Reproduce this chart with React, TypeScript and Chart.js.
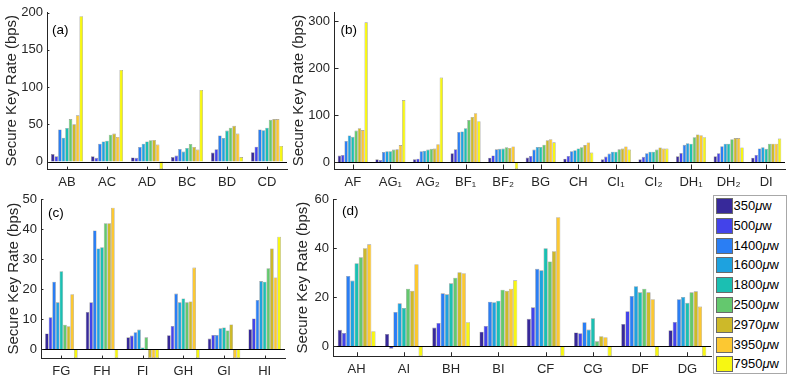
import React, { useEffect, useRef } from 'react';
import { Chart, registerables } from 'chart.js';

Chart.register(...registerables);

// ---------- DATA ----------
const seriesPower = [350, 500, 1400, 1600, 1800, 2500, 2970, 3950, 7950];
const seriesColors = ['#37299a', '#4343ea', '#2a7ef4', '#1ea2df', '#1bbfb2', '#64c86e', '#cdb929', '#fcc832', '#f7f712'];

const catsA = ['AB', 'AC', 'AD', 'BC', 'BD', 'CD'];
// rows = categories, columns = series (350 ... 7950 µw)
const valuesA = [
  [10, 7, 43, 32, 45, 57, 50, 62, 195],
  [7, 5, 24, 27, 28, 36, 37.5, 33, 123],
  [5.4, 5, 19.6, 24, 27, 28.6, 29, 22.8, -10],
  [6, 8, 17, 13.4, 18.3, 23.7, 19.6, 16, 96],
  [12, 16.5, 35, 31.7, 41.5, 45.5, 48, 37.5, 6],
  [12.5, 20, 43, 42, 45.5, 56, 57, 57, 21],
];
const yTicksA = [0, 50, 100, 150, 200];

const catsB = ['AF', 'AG₁', 'AG₂', 'BF₁', 'BF₂', 'BG', 'CH', 'CI₁', 'CI₂', 'DH₁', 'DH₂', 'DI'];
const valuesB = [
  [13.6, 15, 45, 56.5, 53.7, 67, 72, 68, 298],
  [5.7, 4, 21.5, 23, 23, 26.5, 27, 36, 132],
  [6, 7, 23, 24, 26.5, 28, 28.6, 38, 180],
  [18.6, 27, 64, 65, 72, 89.5, 96, 104, 87],
  [9, 14, 27, 28, 28.6, 31.5, 30, 33, -15],
  [9.3, 13, 26.5, 32, 32, 37, 46.5, 48.7, 42],
  [7, 13, 23, 25, 29, 31.5, 36, 41.5, 20],
  [5.7, 11.5, 18, 22, 22, 27, 28.6, 33, 26.5],
  [5.7, 11, 18.6, 22, 22, 26.5, 31, 28.6, 28.6],
  [12, 19, 36.5, 40, 39, 53, 58.7, 57, 53],
  [12, 18.6, 33.6, 39, 39, 48.7, 51, 51, 31],
  [9, 15, 29, 31.5, 28, 39, 39, 39, 50],
];
const yTicksB = [0, 100, 200, 300];

const catsC = ['FG', 'FH', 'FI', 'GH', 'GI', 'HI'];
const valuesC = [
  [5.2, 10.6, 22.5, 15.6, 26, 8.1, 7.6, 18.3, -3],
  [12.4, 15.6, 39.6, 33.6, 34, 42, 42, 47.2, -3],
  [3.9, 4.5, 5.6, 6.5, 0.5, 3.9, -3, -3, -3],
  [4.6, 7.7, 18.5, 15.6, 16.9, 15.6, 15.9, 27.2, -3],
  [3.5, 4.7, 4.7, 6.9, 7.2, 6.2, 8.2, -3, -3],
  [6.6, 10.2, 16.4, 22.7, 22.5, 27, 33.6, 23.9, 37.5],
];
const yTicksC = [0, 10, 20, 30, 40, 50];

const catsD = ['AH', 'AI', 'BH', 'BI', 'CF', 'CG', 'DF', 'DG'];
const valuesD = [
  [6.7, 5.4, 28.7, 26.8, 33.9, 36.3, 40, 41.6, 6.1],
  [5, -1, 14, 17.5, 15.6, 23.5, 22.6, 33.5, -4],
  [7.6, 9.5, 21.6, 21.2, 25.7, 28, 30.2, 29.8, 9.8],
  [5.9, 8.3, 18.2, 18, 18.6, 23.1, 22.6, 23.5, 26.9],
  [11.2, 15.9, 31.6, 31, 40, 34.6, 38.8, 52.7, -4],
  [5.6, 5.3, 9.8, 6.8, 11.4, 2, 4.1, 3.7, -4],
  [9.1, 14.3, 20.5, 24.5, 22, 23.5, 22, 19.2, -4],
  [6.5, 9.9, 19.2, 20.1, 17.7, 22, 22.4, 16.2, -4],
];
const yTicksD = [0, 20, 40, 60];

// ---------- LAYOUT ----------
const W = 789;
const H = 379;
const FONT = "'Liberation Sans', Arial, Helvetica, sans-serif";
const AX = '#262626';
const TICK_SIZE = 13;
const TITLE_SIZE = 15;

type Spec = {
  id: string;
  cats: string[];
  rows: number[][];
  yMin: number;
  yMax: number;
  yTicks: number[];
  L: number; R: number; T: number; B: number;
  titleOff: number;
  letter: string;
  ldx: number; ldy: number;
};

const specs: Spec[] = [
  { id: 'a', cats: catsA, rows: valuesA, yMin: -10, yMax: 200, yTicks: yTicksA, L: 47, R: 287, T: 12.5, B: 169, titleOff: 35, letter: '(a)', ldx: 5, ldy: 17.5 },
  { id: 'b', cats: catsB, rows: valuesB, yMin: -15, yMax: 320, yTicks: yTicksB, L: 334, R: 785, T: 12, B: 169, titleOff: 35, letter: '(b)', ldx: 6.5, ldy: 18 },
  { id: 'c', cats: catsC, rows: valuesC, yMin: -3, yMax: 50, yTicks: yTicksC, L: 41, R: 285, T: 199.3, B: 358, titleOff: 27, letter: '(c)', ldx: 7, ldy: 14 },
  { id: 'd', cats: catsD, rows: valuesD, yMin: -4, yMax: 60, yTicks: yTicksD, L: 333, R: 711, T: 199.3, B: 356, titleOff: 30, letter: '(d)', ldx: 9, ldy: 12 },
];

const decoPlugin = {
  id: 'panelDeco',
  afterDatasetsDraw(chart: any, _args: any, opts: any) {
    const { ctx, chartArea: ca, scales } = chart;
    const x = scales.x;
    const y = scales.y;
    ctx.save();
    // zero baseline
    const y0 = Math.round(y.getPixelForValue(0)) + 0.5;
    ctx.strokeStyle = '#000';
    ctx.lineWidth = 1;
    ctx.beginPath();
    ctx.moveTo(ca.left, y0);
    ctx.lineTo(ca.right, y0);
    ctx.stroke();
    // inward ticks
    const tl = Math.max(ca.right - ca.left, ca.bottom - ca.top) * 0.01;
    ctx.strokeStyle = AX;
    ctx.beginPath();
    x.ticks.forEach((_t: any, i: number) => {
      const px = Math.round(x.getPixelForTick(i)) + 0.5;
      ctx.moveTo(px, ca.bottom);
      ctx.lineTo(px, ca.bottom - tl);
    });
    y.ticks.forEach((t: any) => {
      const py = Math.round(y.getPixelForValue(t.value)) + 0.5;
      ctx.moveTo(ca.left, py);
      ctx.lineTo(ca.left + tl, py);
    });
    ctx.stroke();
    // panel letter
    ctx.fillStyle = '#000';
    ctx.font = `13.5px ${FONT}`;
    ctx.textBaseline = 'middle';
    ctx.textAlign = 'left';
    ctx.fillText(opts.letter, ca.left + opts.ldx, ca.top + opts.ldy);
    ctx.restore();
  },
};

function Panel({ spec }: { spec: Spec }) {
  const ref = useRef<HTMLCanvasElement>(null);
  useEffect(() => {
    const canvas = ref.current;
    if (!canvas) return;
    const lh = TITLE_SIZE * 1.2;
    const axisW = spec.titleOff + lh / 2;
    const xH = 26;
    const datasets = seriesPower.map((p, si) => ({
      label: `${p}μw`,
      data: spec.rows.map((r) => r[si]),
      backgroundColor: seriesColors[si],
      borderColor: 'rgba(60,60,60,0.55)',
      borderWidth: 0.6,
      categoryPercentage: 0.8,
      barPercentage: 1,
    }));
    const chart = new Chart(canvas, {
      type: 'bar',
      data: { labels: spec.cats, datasets },
      options: {
        animation: false,
        responsive: false,
        maintainAspectRatio: false,
        events: [],
        layout: {
          padding: {
            left: spec.L - axisW,
            top: spec.T,
            right: W - spec.R,
            bottom: H - spec.B - xH,
          },
        },
        plugins: {
          legend: { display: false },
          tooltip: { enabled: false },
          // @ts-ignore
          panelDeco: { letter: spec.letter, ldx: spec.ldx, ldy: spec.ldy },
        },
        scales: {
          x: {
            type: 'category',
            offset: true,
            grid: { display: false, drawTicks: false, offset: true },
            border: { display: true, color: AX, width: 1 },
            ticks: {
              color: AX,
              font: { family: FONT, size: TICK_SIZE },
              padding: 6,
              maxRotation: 0,
              minRotation: 0,
              autoSkip: false,
            },
            afterFit: (s: any) => {
              s.height = xH;
            },
          },
          y: {
            type: 'linear',
            min: spec.yMin,
            max: spec.yMax,
            grid: { display: false, drawTicks: false },
            border: { display: true, color: AX, width: 1 },
            ticks: {
              color: AX,
              font: { family: FONT, size: TICK_SIZE },
              padding: 4,
            },
            afterBuildTicks: (s: any) => {
              s.ticks = spec.yTicks.map((v) => ({ value: v }));
            },
            afterFit: (s: any) => {
              s.width = axisW;
            },
            title: {
              display: true,
              text: 'Secure Key Rate (bps)',
              color: AX,
              font: { family: FONT, size: TITLE_SIZE, lineHeight: 1.2 },
              padding: { top: 0, bottom: 0 },
            },
          },
        },
      } as any,
      plugins: [decoPlugin],
    });
    return () => chart.destroy();
  }, [spec]);
  return (
    <canvas
      ref={ref}
      width={W}
      height={H}
      style={{ position: 'absolute', left: 0, top: 0, width: W, height: H }}
    />
  );
}

function Legend() {
  return (
    <div
      style={{
        position: 'absolute',
        left: 712.5,
        top: 194.5,
        width: 74,
        height: 179,
        border: '1px solid #a8a8a8',
        background: '#fff',
        boxSizing: 'border-box',
        fontFamily: FONT,
        fontSize: 13,
        color: '#000',
      }}
    >
      {seriesPower.map((p, i) => (
        <div
          key={p}
          style={{ position: 'absolute', left: 2, top: 2 + i * 19.8, height: 17, display: 'flex', alignItems: 'center' }}
        >
          <div
            style={{
              width: 17,
              height: 16,
              boxSizing: 'border-box',
              background: seriesColors[i],
              border: '1px solid #6a6a6a',
              marginRight: 1,
            }}
          />
          <span style={{ whiteSpace: 'nowrap', lineHeight: '16px' }}>
            {p}
            <span style={{ fontStyle: 'italic' }}>μ</span>w
          </span>
        </div>
      ))}
    </div>
  );
}

export default function App() {
  return (
    <div style={{ position: 'fixed', left: 0, top: 0, width: W, height: H, background: '#fff', overflow: 'hidden' }}>
      {specs.map((s) => (
        <Panel key={s.id} spec={s} />
      ))}
      <Legend />
    </div>
  );
}
